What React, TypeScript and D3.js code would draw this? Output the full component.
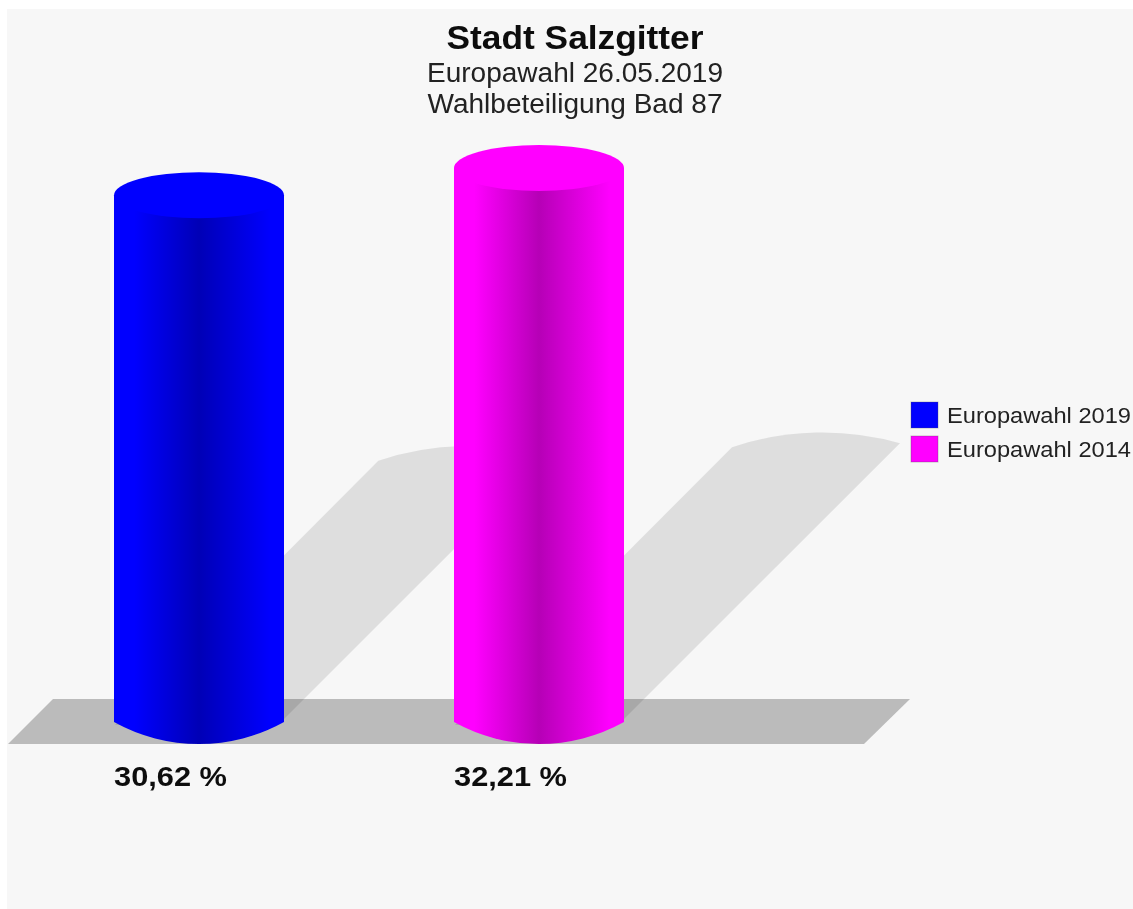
import React from "react";
import * as d3 from "d3";

const categories = ["Europawahl 2019", "Europawahl 2014"];
const values = [30.62, 32.21];
const valueLabels = ["30,62 %", "32,21 %"];
const colors = ["#0000ff", "#ff00ff"];
const titleLines = ["Stadt Salzgitter", "Europawahl 26.05.2019", "Wahlbeteiligung Bad 87"];

const W = 1133, H = 909;
const SANS = "'Liberation Sans', Arial, sans-serif";
const baseY = 722;
const rx = 85, ry = 23;

const x = d3.scaleBand<string>().domain(categories).range([29, 709]);
const y = d3.scaleLinear().domain([0, 35]).range([baseY, baseY - 35 * 17.2]);
// The shadow falls up and to the right, its length proportional to the value.
const shadowX = d3.scaleLinear().domain([0, 35]).range([0, 35 * 8.6]);
const shadowY = d3.scaleLinear().domain([0, 35]).range([0, 35 * 8.5]);

function shadowPath(cx: number, v: number) {
  const ex = cx + shadowX(v), ey = 720 - shadowY(v);
  return `M${cx - 84},725L${ex - 84},${ey + 1}` +
    `A285,285 0 0 1 ${ex + 84},${ey - 3}` +
    `L${cx + 84},720Z`;
}

function bodyPath(cx: number, v: number) {
  const top = y(v);
  return `M${cx - rx},${top}L${cx - rx},${baseY}A175,175 0 0 0 ${cx + rx},${baseY}L${cx + rx},${top}Z`;
}

export default function App() {
  return (
    <svg width={W} height={H} style={{ position: "absolute", left: 0, top: 0, display: "block" }}>
      <defs>
        {colors.map((c, i) => {
          const dark = d3.rgb(c).darker(0.95).formatHex();
          return (
            <linearGradient id={`cyl${i}`} key={c} x1="0" x2="1" y1="0" y2="0">
              <stop offset="0" stopColor={c} />
              <stop offset="0.12" stopColor={c} />
              <stop offset="0.5" stopColor={dark} />
              <stop offset="0.92" stopColor={c} />
              <stop offset="1" stopColor={c} />
            </linearGradient>
          );
        })}
        <filter id="soft" x="0" y="0" width="100%" height="100%">
          <feGaussianBlur stdDeviation="0.6" />
        </filter>
      </defs>
      <rect x={7} y={9} width={W - 7} height={H - 9} fill="#f7f7f7" />
      <g filter="url(#soft)">
        <polygon points="8,744 864,744 910,699 53,699" fill="#bbbbbb" />
        {categories.map((c, i) => (
          <path key={c} d={shadowPath(x(c)! + x.bandwidth() / 2, values[i])} fill="#000" fillOpacity={0.1} />
        ))}
        {categories.map((c, i) => {
          const cx = x(c)! + x.bandwidth() / 2;
          return (
            <g key={c}>
              <path d={bodyPath(cx, values[i])} fill={`url(#cyl${i})`} />
              <ellipse cx={cx} cy={y(values[i])} rx={rx} ry={ry} fill={colors[i]} />
              <text x={cx - rx} y={786} fontFamily={SANS} fontWeight="bold" fontSize={27} textLength={113} lengthAdjust="spacingAndGlyphs" fill="#111">
                {valueLabels[i]}
              </text>
            </g>
          );
        })}
        <g fontFamily={SANS} textAnchor="middle" fill="#222">
          <text x={575} y={49} fontSize={34} fontWeight="bold" fill="#111" textLength={257} lengthAdjust="spacingAndGlyphs">{titleLines[0]}</text>
          <text x={575} y={82} fontSize={27} textLength={296} lengthAdjust="spacingAndGlyphs">{titleLines[1]}</text>
          <text x={575} y={113} fontSize={27} textLength={295} lengthAdjust="spacingAndGlyphs">{titleLines[2]}</text>
        </g>
        {categories.map((c, i) => (
          <g key={c} transform={`translate(0,${34 * i})`}>
            <rect x={911} y={402} width={27} height={26} fill={colors[i]} stroke="#555" strokeOpacity={0.35} />
            <text x={947} y={423} fontFamily={SANS} fontSize={21.5} textLength={184} lengthAdjust="spacingAndGlyphs" fill="#222">{c}</text>
          </g>
        ))}
      </g>
    </svg>
  );
}
